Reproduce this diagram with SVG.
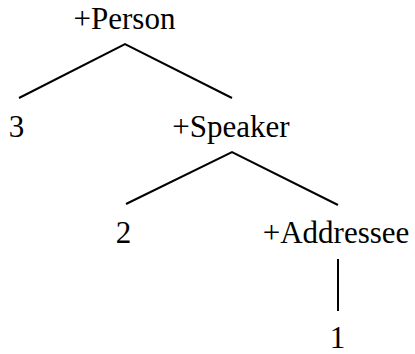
<svg xmlns="http://www.w3.org/2000/svg" width="415" height="354" viewBox="0 0 415 354">
<style>
text{font-family:"Liberation Serif","Times New Roman",serif;font-size:31px;fill:#000;text-anchor:middle}
.e{stroke:#000;stroke-width:2;fill:none;stroke-linecap:butt;stroke-linejoin:miter}
</style>
<rect width="415" height="354" fill="#fff"/>
<g id="edges">
<polyline class="e" points="19,98 125,44 232,98"/>
<polyline class="e" points="126,204 232,152 338,205"/>
<line class="e" x1="338" y1="259" x2="338" y2="311"/>
</g>
<g id="n-person"><text x="124.5" y="29">+Person</text></g>
<g id="n-3"><text x="16.5" y="137">3</text></g>
<g id="n-speaker"><text x="231" y="137">+Speaker</text></g>
<g id="n-2"><text x="123.5" y="243">2</text></g>
<g id="n-addressee"><text x="336" y="243">+Addressee</text></g>
<g id="n-1"><text x="337.5" y="348">1</text></g>
</svg>
